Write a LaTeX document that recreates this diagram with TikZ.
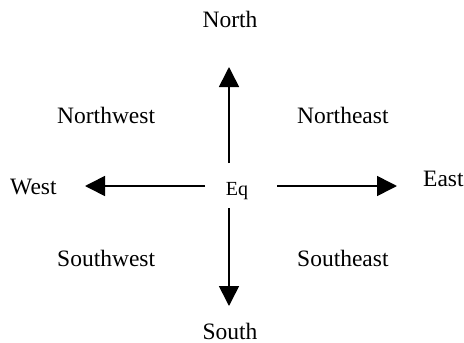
\documentclass[tikz,border=0pt]{standalone}
\usepackage{fontspec}
\setmainfont{Liberation Serif}
\usetikzlibrary{arrows.meta}
\begin{document}
\begin{tikzpicture}[x=1pt,y=-1pt,
  lbl/.style={inner sep=0pt,font=\fontsize{23.5}{28}\selectfont},
  eqlbl/.style={inner sep=0pt,font=\fontsize{20}{24}\selectfont},
  arr/.style={line width=1.6pt,-{Triangle[width=20pt,length=20pt]}}]
\useasboundingbox (0,0) rectangle (464,343);
\node[lbl,anchor=base] (north) at (230,27) {North};
\node[lbl,anchor=base] (south) at (230,339) {South};
\node[lbl,anchor=base west] (west) at (10,194) {West};
\node[lbl,anchor=base west] (east) at (423,186) {East};
\node[lbl,anchor=base west] (nw) at (57,123) {Northwest};
\node[lbl,anchor=base west] (ne) at (297,123) {Northeast};
\node[lbl,anchor=base west] (sw) at (57,266) {Southwest};
\node[lbl,anchor=base west] (se) at (297,266) {Southeast};
\node[eqlbl,anchor=base] (eq) at (237,195) {Eq};
\coordinate (nStart) at (229,163);
\coordinate (nEnd) at (229,67);
\coordinate (sStart) at (229,208);
\coordinate (sEnd) at (229,306);
\coordinate (wStart) at (205,186);
\coordinate (wEnd) at (85,186);
\coordinate (eStart) at (277,186);
\coordinate (eEnd) at (397,186);
\draw[arr] (nStart) -- (nEnd);
\draw[arr] (sStart) -- (sEnd);
\draw[arr] (wStart) -- (wEnd);
\draw[arr] (eStart) -- (eEnd);
\end{tikzpicture}
\end{document}
